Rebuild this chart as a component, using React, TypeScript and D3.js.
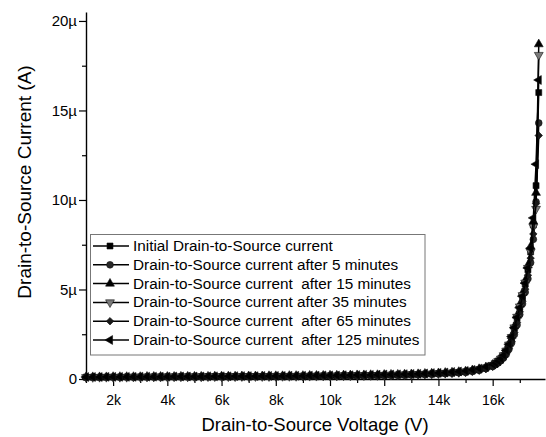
import React, { useEffect, useRef } from 'react';
import * as d3 from 'd3';

// drain-to-source voltage (V), shared by all series
const voltage = [
  1000, 1250, 1500, 1750, 2000, 2250, 2500, 2750, 3000, 3250,
  3500, 3750, 4000, 4250, 4500, 4750, 5000, 5250, 5500, 5750,
  6000, 6250, 6500, 6750, 7000, 7250, 7500, 7750, 8000, 8250,
  8500, 8750, 9000, 9250, 9500, 9750, 10000, 10250, 10500, 10750,
  11000, 11250, 11500, 11750, 12000, 12250, 12500, 12750, 13000, 13250,
  13500, 13750, 14000, 14250, 14500, 14750, 15000, 15250, 15500, 15750,
  16000, 16100, 16200, 16300, 16400, 16500, 16600, 16700, 16800, 16900,
  17000, 17100, 17200, 17300, 17400, 17500, 17600, 17700,
];

// currents in µA
const currentInitial = [
  0.10, 0.10, 0.10, 0.10, 0.11, 0.11, 0.11, 0.11, 0.11, 0.11,
  0.12, 0.12, 0.12, 0.12, 0.12, 0.12, 0.12, 0.13, 0.13, 0.13,
  0.13, 0.13, 0.13, 0.14, 0.14, 0.14, 0.14, 0.14, 0.15, 0.15,
  0.15, 0.15, 0.16, 0.16, 0.16, 0.17, 0.17, 0.17, 0.18, 0.18,
  0.19, 0.19, 0.20, 0.20, 0.21, 0.22, 0.22, 0.23, 0.24, 0.25,
  0.27, 0.28, 0.30, 0.32, 0.34, 0.37, 0.40, 0.45, 0.52, 0.62,
  0.76, 0.86, 0.98, 1.12, 1.30, 1.56, 1.90, 2.32, 2.84, 3.42,
  4.00, 4.60, 5.30, 6.10, 7.10, 8.60, 10.8, 16.0,
];
const current5min = [
  0.10, 0.11, 0.10, 0.11, 0.11, 0.11, 0.12, 0.11, 0.12, 0.12,
  0.12, 0.12, 0.13, 0.12, 0.13, 0.13, 0.13, 0.13, 0.13, 0.14,
  0.14, 0.14, 0.14, 0.14, 0.15, 0.15, 0.15, 0.15, 0.15, 0.16,
  0.16, 0.16, 0.16, 0.17, 0.17, 0.17, 0.18, 0.18, 0.18, 0.19,
  0.19, 0.20, 0.20, 0.21, 0.21, 0.22, 0.23, 0.23, 0.24, 0.25,
  0.26, 0.28, 0.29, 0.31, 0.33, 0.35, 0.38, 0.43, 0.49, 0.58,
  0.70, 0.80, 0.90, 1.02, 1.18, 1.38, 1.66, 2.02, 2.48, 3.02,
  3.60, 4.20, 4.85, 5.60, 6.50, 7.80, 9.9, 14.3,
];
const current15min = [
  0.11, 0.11, 0.11, 0.11, 0.12, 0.12, 0.12, 0.12, 0.12, 0.13,
  0.13, 0.13, 0.13, 0.13, 0.14, 0.14, 0.14, 0.14, 0.14, 0.15,
  0.15, 0.15, 0.15, 0.16, 0.16, 0.16, 0.16, 0.17, 0.17, 0.17,
  0.18, 0.18, 0.18, 0.19, 0.19, 0.19, 0.20, 0.20, 0.21, 0.21,
  0.22, 0.22, 0.23, 0.23, 0.24, 0.25, 0.25, 0.26, 0.27, 0.28,
  0.30, 0.31, 0.33, 0.35, 0.37, 0.40, 0.43, 0.49, 0.56, 0.66,
  0.80, 0.90, 1.02, 1.16, 1.35, 1.62, 1.96, 2.40, 2.94, 3.54,
  4.15, 4.80, 5.50, 6.35, 7.40, 8.80, 10.4, 18.7,
];
const current35min = [
  0.10, 0.10, 0.11, 0.11, 0.11, 0.11, 0.11, 0.12, 0.12, 0.12,
  0.12, 0.12, 0.12, 0.13, 0.13, 0.13, 0.13, 0.13, 0.14, 0.14,
  0.14, 0.14, 0.14, 0.15, 0.15, 0.15, 0.15, 0.15, 0.16, 0.16,
  0.16, 0.16, 0.17, 0.17, 0.17, 0.18, 0.18, 0.18, 0.19, 0.19,
  0.20, 0.20, 0.21, 0.21, 0.22, 0.23, 0.23, 0.24, 0.25, 0.26,
  0.28, 0.29, 0.31, 0.33, 0.35, 0.38, 0.41, 0.47, 0.54, 0.64,
  0.78, 0.87, 0.99, 1.13, 1.32, 1.58, 1.92, 2.34, 2.88, 3.47,
  4.05, 4.68, 5.38, 6.20, 7.10, 8.50, 9.5, 18.1,
];
const current65min = [
  0.09, 0.10, 0.10, 0.10, 0.10, 0.10, 0.11, 0.11, 0.11, 0.11,
  0.11, 0.11, 0.12, 0.12, 0.12, 0.12, 0.12, 0.12, 0.12, 0.13,
  0.13, 0.13, 0.13, 0.13, 0.13, 0.14, 0.14, 0.14, 0.14, 0.15,
  0.15, 0.15, 0.15, 0.16, 0.16, 0.16, 0.16, 0.17, 0.17, 0.18,
  0.18, 0.18, 0.19, 0.19, 0.20, 0.21, 0.21, 0.22, 0.23, 0.24,
  0.25, 0.27, 0.28, 0.30, 0.32, 0.34, 0.37, 0.42, 0.48, 0.56,
  0.68, 0.80, 0.90, 1.04, 1.21, 1.43, 1.72, 2.10, 2.60, 3.16,
  3.75, 4.35, 5.02, 5.80, 6.75, 8.10, 9.8, 13.6,
];
const current125min = [
  0.11, 0.11, 0.11, 0.12, 0.12, 0.12, 0.12, 0.12, 0.13, 0.13,
  0.13, 0.13, 0.13, 0.14, 0.14, 0.14, 0.14, 0.14, 0.15, 0.15,
  0.15, 0.15, 0.16, 0.16, 0.16, 0.16, 0.17, 0.17, 0.17, 0.17,
  0.18, 0.18, 0.18, 0.19, 0.19, 0.20, 0.20, 0.20, 0.21, 0.21,
  0.22, 0.23, 0.23, 0.24, 0.25, 0.25, 0.26, 0.27, 0.28, 0.29,
  0.31, 0.33, 0.34, 0.36, 0.39, 0.42, 0.45, 0.51, 0.58, 0.68,
  0.82, 0.88, 1.00, 1.14, 1.33, 1.60, 1.94, 2.37, 2.88, 3.45,
  3.98, 4.62, 5.35, 6.20, 7.30, 9.00, 12.0, 16.7,
];

const seriesLabels = [
  'Initial Drain-to-Source current',
  'Drain-to-Source current after 5 minutes',
  'Drain-to-Source current  after 15 minutes',
  'Drain-to-Source current after 35 minutes',
  'Drain-to-Source current  after 65 minutes',
  'Drain-to-Source current  after 125 minutes',
];

const xMajorTicks = [2000, 4000, 6000, 8000, 10000, 12000, 14000, 16000];
const xMinorTicks = [1000, 3000, 5000, 7000, 9000, 11000, 13000, 15000, 17000];
const xTickLabels = ['2k', '4k', '6k', '8k', '10k', '12k', '14k', '16k'];
const yMajorTicks = [0, 5, 10, 15, 20];
const yMinorTicks = [2.5, 7.5, 12.5, 17.5];
const yTickLabels = ['0', '5µ', '10µ', '15µ', '20µ'];

const font = '"Liberation Sans", Arial, sans-serif';

const App = () => {
  const ref = useRef(null);

  useEffect(() => {
    const svg = d3.select(ref.current);
    svg.selectAll('*').remove();

    const x = d3.scaleLinear().domain([1000, 17930]).range([86, 545]);
    const y = d3.scaleLinear().domain([0, 20.5]).range([379, 12]);

    const series = [
      { values: currentInitial, type: d3.symbolSquare, size: 36, rotate: 0, fill: '#000' },
      { values: current5min, type: d3.symbolCircle, size: 36, rotate: 0, fill: '#2a2a2a' },
      { values: current15min, type: d3.symbolTriangle, size: 34, rotate: 0, fill: '#000' },
      { values: current35min, type: d3.symbolTriangle, size: 34, rotate: 180, fill: '#7a7a7a' },
      { values: current65min, type: d3.symbolSquare, size: 28, rotate: 45, fill: '#1a1a1a' },
      { values: current125min, type: d3.symbolTriangle, size: 34, rotate: -90, fill: '#000' },
    ];

    // axes: minor ticks first, then major with labels
    const xMinor = svg.append('g')
      .attr('transform', 'translate(0,379)')
      .call(d3.axisBottom(x).tickValues(xMinorTicks).tickSize(4).tickSizeOuter(0).tickFormat(() => ''));
    xMinor.select('.domain').remove();
    const xMajor = svg.append('g')
      .attr('transform', 'translate(0,379)')
      .call(d3.axisBottom(x).tickValues(xMajorTicks).tickSize(7).tickSizeOuter(0).tickPadding(9)
        .tickFormat((d, i) => xTickLabels[i]));
    xMajor.selectAll('text').attr('font-size', 14).attr('font-family', font).attr('fill', '#000');

    const yMinor = svg.append('g')
      .attr('transform', 'translate(86,0)')
      .call(d3.axisLeft(y).tickValues(yMinorTicks).tickSize(4).tickSizeOuter(0).tickFormat(() => ''));
    yMinor.select('.domain').remove();
    const yMajor = svg.append('g')
      .attr('transform', 'translate(86,0)')
      .call(d3.axisLeft(y).tickValues(yMajorTicks).tickSize(7).tickSizeOuter(0).tickPadding(2)
        .tickFormat((d, i) => yTickLabels[i]));
    yMajor.selectAll('text').attr('font-size', 15).attr('font-family', font).attr('fill', '#000');

    svg.selectAll('.domain').attr('stroke', '#000').attr('stroke-width', 1.4);
    svg.selectAll('.tick line').attr('stroke', '#000').attr('stroke-width', 1.2);

    // titles
    svg.append('text')
      .attr('x', 315).attr('y', 431)
      .attr('text-anchor', 'middle')
      .attr('font-size', 18.5).attr('font-family', font)
      .text('Drain-to-Source Voltage (V)');
    svg.append('text')
      .attr('transform', 'translate(31,182) rotate(-90)')
      .attr('text-anchor', 'middle')
      .attr('font-size', 19).attr('font-family', font)
      .text('Drain-to-Source Current (A)');

    // curves
    const line = d3.line()
      .x((d, i) => x(voltage[i]))
      .y((d) => y(d));

    series.forEach((s) => {
      const g = svg.append('g');
      g.append('path')
        .attr('d', line(s.values))
        .attr('fill', 'none')
        .attr('stroke', '#000')
        .attr('stroke-width', 1.5);
      g.selectAll('path.mark')
        .data(s.values)
        .enter().append('path')
        .attr('class', 'mark')
        .attr('d', d3.symbol().type(s.type).size(s.size))
        .attr('transform', (d, i) => 'translate(' + x(voltage[i]) + ',' + y(d) + ') rotate(' + s.rotate + ')')
        .attr('fill', s.fill)
        .attr('stroke', '#111')
        .attr('stroke-width', 0.6);
    });

    // legend
    const legend = svg.append('g');
    legend.append('rect')
      .attr('x', 90.5).attr('y', 234.5)
      .attr('width', 334.5).attr('height', 120.5)
      .attr('fill', '#fff')
      .attr('stroke', '#777')
      .attr('stroke-width', 1);
    series.forEach((s, i) => {
      const ry = 246 + i * 18.8;
      legend.append('line')
        .attr('x1', 93).attr('x2', 129)
        .attr('y1', ry).attr('y2', ry)
        .attr('stroke', '#000').attr('stroke-width', 1.5);
      legend.append('path')
        .attr('d', d3.symbol().type(s.type).size(s.size))
        .attr('transform', 'translate(110,' + ry + ') rotate(' + s.rotate + ')')
        .attr('fill', s.fill)
        .attr('stroke', '#111')
        .attr('stroke-width', 0.6);
      legend.append('text')
        .attr('x', 133).attr('y', ry + 5)
        .attr('font-size', 15.3).attr('font-family', font)
        .style('white-space', 'pre')
        .text(seriesLabels[i]);
    });
  }, []);

  return (
    <svg
      ref={ref}
      width={546}
      height={437}
      style={{ position: 'absolute', left: 0, top: 0, background: '#fff' }}
    />
  );
};

export default App;
